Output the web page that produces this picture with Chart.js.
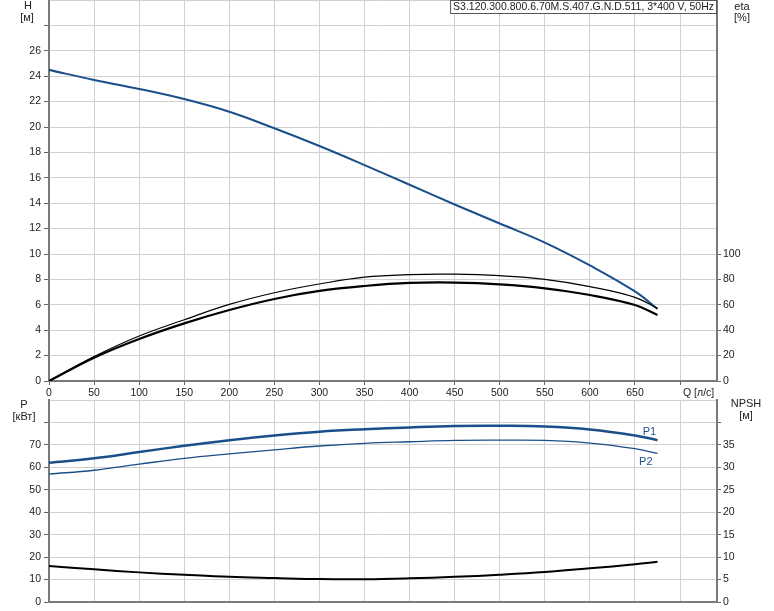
<!DOCTYPE html>
<html>
<head>
<meta charset="utf-8">
<script src="https://cdn.jsdelivr.net/npm/chart.js@4.4.1/dist/chart.umd.min.js"></script>
<style>
  body { margin: 0; background: #fff; }
  #wrap { position: relative; width: 774px; height: 611px; }
  canvas { position: absolute; left: 0; }
  #top { top: 0; }
  #bottom { top: 390px; }
</style>
</head>
<body>
<div id="wrap">
  <canvas id="top" width="774" height="400"></canvas>
  <canvas id="bottom" width="774" height="221"></canvas>
</div>
<script>
const modelName = "S3.120.300.800.6.70M.S.407.G.N.D.511, 3*400 V, 50Hz";
// flow rate, l/s
const flow = [0, 50, 100, 150, 200, 250, 300, 350, 400, 450, 500, 550, 600, 650, 675];
// head, m
const head = [24.5, 23.7, 23.0, 22.2, 21.2, 19.9, 18.5, 17.0, 15.45, 13.9, 12.4, 10.9, 9.1, 7.05, 5.67];
// efficiency curves, %
const etaUpper = [0, 19.2, 35.4, 48.2, 60.3, 69.5, 76.4, 81.8, 83.8, 84.1, 82.9, 80.0, 74.3, 65.9, 57.2];
const etaLower = [0, 18.4, 33.1, 45.4, 55.9, 64.6, 70.9, 74.8, 77.2, 77.5, 76.1, 73.0, 67.7, 59.8, 52.0];
// power, kW
const powerP1 = [62.0, 64.0, 66.8, 69.6, 72.1, 74.2, 75.9, 77.0, 77.8, 78.4, 78.5, 78.2, 76.9, 74.2, 72.1];
const powerP2 = [57.0, 58.7, 61.4, 64.0, 66.0, 67.8, 69.5, 70.7, 71.4, 72.0, 72.1, 72.0, 70.8, 68.3, 66.2];
// NPSH, m
const npsh = [8.0, 7.27, 6.6, 6.07, 5.6, 5.33, 5.1, 5.07, 5.27, 5.6, 6.07, 6.67, 7.5, 8.4, 8.95];

const FONT = '"Liberation Sans", Arial, sans-serif';
Chart.defaults.font.family = FONT;
Chart.defaults.font.size = 10.5;
Chart.defaults.color = '#222';

const blue = '#1b4f8a';
const gridColor = '#d0d0d0';
const axisColor = '#7a7a7a';

const pts = (ys) => flow.map((q, i) => ({ x: q, y: ys[i] }));

function fixSize(prop, size) {
  return (axis) => {
    axis[prop] = size;
    axis.paddingTop = 0;
    axis.paddingBottom = 0;
    axis.paddingLeft = 0;
    axis.paddingRight = 0;
  };
}

function line(label, ys, color, width, axis) {
  return {
    label: label,
    data: pts(ys),
    borderColor: color,
    borderWidth: width,
    pointRadius: 0,
    fill: false,
    tension: 0.4,
    yAxisID: axis,
  };
}

function xScale(showLabels, height) {
  return {
    type: 'linear',
    min: 0,
    max: 741,
    afterFit: fixSize('height', height),
    ticks: {
      stepSize: 50,
      includeBounds: false,
      autoSkip: false,
      maxRotation: 0,
      padding: 2,
      callback: (v) => (showLabels && v <= 650 ? v : ''),
    },
    grid: { color: gridColor, lineWidth: 1, tickLength: 4, tickColor: '#666', drawTicks: showLabels },
    border: { color: axisColor, width: 2 },
  };
}

function yScale(pos, max, step, lastLabel, lastTick, width, onChart) {
  return {
    type: 'linear',
    position: pos,
    min: 0,
    max: max,
    afterFit: fixSize('width', width),
    ticks: {
      stepSize: step,
      autoSkip: false,
      padding: pos === 'left' ? 3 : 2,
      callback: (v) => (v <= lastLabel ? v : ''),
    },
    grid: {
      color: gridColor,
      lineWidth: 1,
      drawOnChartArea: onChart,
      tickLength: pos === 'left' ? 5 : 4,
      tickColor: (ctx) => (ctx.tick && ctx.tick.value <= lastTick ? '#666' : 'rgba(0,0,0,0)'),
    },
    border: { color: axisColor, width: 2 },
  };
}

const topLabels = {
  id: 'topLabels',
  afterDraw(chart) {
    const ctx = chart.ctx;
    ctx.save();
    ctx.font = '11px ' + FONT;
    ctx.fillStyle = '#222';
    ctx.textAlign = 'center';
    ctx.textBaseline = 'middle';
    ctx.fillText('H', 28, 6);
    ctx.fillText('[м]', 27, 18);
    ctx.fillText('eta', 742, 7);
    ctx.fillText('[%]', 742, 18);
    ctx.textAlign = 'left';
    ctx.font = '10.5px ' + FONT;
    ctx.fillText('Q [л/с]', 683, 393);
    // model name box
    const right = chart.chartArea.right;
    const w = ctx.measureText(modelName).width + 6;
    ctx.fillStyle = '#fff';
    ctx.fillRect(right - w, 0, w, 14);
    ctx.strokeStyle = '#555';
    ctx.lineWidth = 1;
    ctx.strokeRect(right - w + 0.5, 0.5, w - 1, 13);
    ctx.fillStyle = '#222';
    ctx.fillText(modelName, right - w + 3, 7.5);
    ctx.restore();
  },
};

const bottomLabels = {
  id: 'bottomLabels',
  afterDraw(chart) {
    const ctx = chart.ctx;
    const xs = chart.scales.x;
    const ys = chart.scales.p;
    ctx.save();
    ctx.font = '11px ' + FONT;
    ctx.fillStyle = '#222';
    ctx.textAlign = 'center';
    ctx.textBaseline = 'middle';
    ctx.fillText('P', 24, 15);
    ctx.fillText('[кВт]', 24, 27);
    ctx.fillText('NPSH', 746, 14);
    ctx.fillText('[м]', 746, 26);
    ctx.fillStyle = blue;
    ctx.fillText('P1', xs.getPixelForValue(666), ys.getPixelForValue(75.6));
    ctx.fillText('P2', xs.getPixelForValue(662), ys.getPixelForValue(62.6));
    ctx.restore();
  },
};

new Chart(document.getElementById('top'), {
  type: 'line',
  data: {
    datasets: [
      line('eta', etaUpper, '#000', 1.2, 'eta'),
      line('eta2', etaLower, '#000', 2.2, 'eta'),
      line('H', head, blue, 2, 'h'),
    ],
  },
  options: {
    responsive: false,
    animation: false,
    layout: { padding: 0 },
    plugins: { legend: { display: false }, tooltip: { enabled: false } },
    scales: {
      x: xScale(true, 19),
      h: yScale('left', 30, 2, 26, 28, 49, true),
      eta: yScale('right', 300, 20, 100, 100, 57, false),
    },
  },
  plugins: [topLabels],
});

new Chart(document.getElementById('bottom'), {
  type: 'line',
  data: {
    datasets: [
      line('NPSH', npsh, '#000', 2, 'npsh'),
      line('P2', powerP2, blue, 1.3, 'p'),
      line('P1', powerP1, blue, 2.5, 'p'),
    ],
  },
  options: {
    responsive: false,
    animation: false,
    layout: { padding: { top: 10 } },
    plugins: { legend: { display: false }, tooltip: { enabled: false } },
    scales: {
      x: xScale(false, 9),
      p: yScale('left', 90, 10, 70, 80, 49, true),
      npsh: yScale('right', 45, 5, 35, 40, 57, false),
    },
  },
  plugins: [bottomLabels],
});
</script>
</body>
</html>
